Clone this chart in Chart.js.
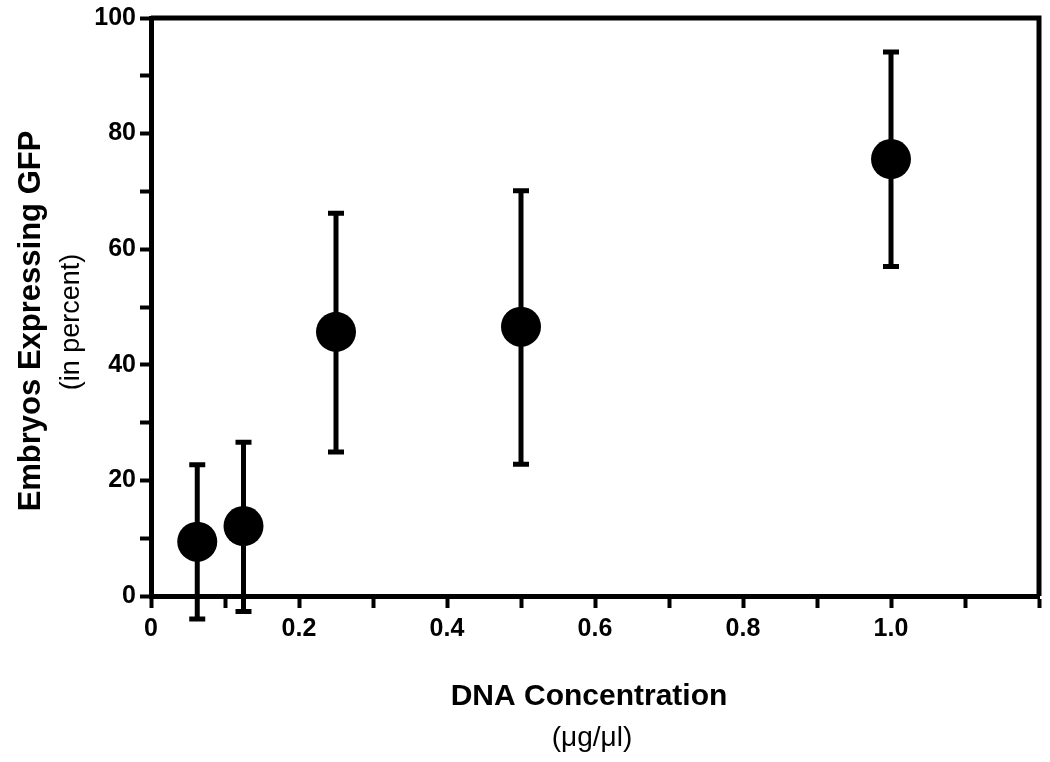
<!DOCTYPE html>
<html>
<head>
<meta charset="utf-8">
<script src="https://cdn.jsdelivr.net/npm/chart.js@4"></script>
<style>
  html, body { margin: 0; padding: 0; background: #fff; }
  #wrap { width: 1050px; height: 762px; position: relative; }
</style>
</head>
<body>
<div id="wrap"><canvas id="c" width="1050" height="762"></canvas></div>
<script>
// ---- Data ----
const concentrations = [0.0625, 0.125, 0.25, 0.5, 1.0];      // µg/µl
const percentGFP     = [9.4, 12.1, 45.7, 46.6, 75.6];         // mean %
const errorLow       = [-4.0, -2.7, 24.9, 22.8, 57.0];        // lower end of error bar
const errorHigh      = [22.7, 26.6, 66.2, 70.1, 94.1];        // upper end of error bar

const xTickPositions = [0, 0.1, 0.2, 0.3, 0.4, 0.5, 0.6, 0.7, 0.8, 0.9, 1.0, 1.1, 1.2];
const xTickValues = [0, 0.2, 0.4, 0.6, 0.8, 1.0];
const xTickLabels = ['0', '0.2', '0.4', '0.6', '0.8', '1.0'];
const yTickValues = [0, 20, 40, 60, 80, 100];
const yTickLabels = ['0', '20', '40', '60', '80', '100'];

const xTitle = 'DNA Concentration';
const xSubTitle = '(\u03BCg/\u03BCl)';
const yTitle = 'Embryos Expressing GFP';
const ySubTitle = '(in percent)';

const FONT = '"Liberation Sans", Arial, Helvetica, sans-serif';

function labelFor(values, labels, v) {
  for (let i = 0; i < values.length; i++) {
    if (Math.abs(values[i] - v) < 1e-6) return labels[i];
  }
  return '';
}

// Scatter controller that does not reserve layout space for big markers
class FramedScatterController extends Chart.ScatterController {
  getMaxOverflow() { return 0; }
}
FramedScatterController.id = 'framedScatter';
FramedScatterController.defaults = Chart.ScatterController.defaults;
FramedScatterController.overrides = Chart.ScatterController.overrides;
Chart.register(FramedScatterController);

const errorBarPlugin = {
  id: 'errorBars',
  beforeDatasetsDraw(chart) {
    const ctx = chart.ctx;
    const xs = chart.scales.x, ys = chart.scales.y;
    ctx.save();
    ctx.strokeStyle = '#000';
    ctx.lineWidth = 5;
    ctx.lineCap = 'butt';
    const capHalf = 8;
    for (let i = 0; i < concentrations.length; i++) {
      const px = xs.getPixelForValue(concentrations[i]);
      const pLo = ys.getPixelForValue(errorLow[i]);
      const pHi = ys.getPixelForValue(errorHigh[i]);
      ctx.beginPath();
      ctx.moveTo(px, pLo);
      ctx.lineTo(px, pHi);
      ctx.moveTo(px - capHalf, pLo);
      ctx.lineTo(px + capHalf, pLo);
      ctx.moveTo(px - capHalf, pHi);
      ctx.lineTo(px + capHalf, pHi);
      ctx.stroke();
    }
    ctx.restore();
  }
};

const framePlugin = {
  id: 'frameAndTitles',
  afterDraw(chart) {
    const ctx = chart.ctx;
    const a = chart.chartArea;
    const xs = chart.scales.x, ys = chart.scales.y;
    ctx.save();
    // top and right frame lines
    ctx.strokeStyle = '#000';
    ctx.lineWidth = 5;
    ctx.beginPath();
    const topY = ys.getPixelForValue(100);
    const rightX = xs.getPixelForValue(1.2);
    ctx.moveTo(a.left, topY);
    ctx.lineTo(rightX, topY);
    ctx.lineTo(rightX, ys.getPixelForValue(0));
    ctx.stroke();

    // axis titles
    ctx.fillStyle = '#000';
    ctx.textAlign = 'center';
    ctx.textBaseline = 'alphabetic';
    ctx.font = 'bold 30px ' + FONT;
    ctx.fillText(xTitle, 589, 705);
    ctx.font = '28px ' + FONT;
    ctx.fillText(xSubTitle, 592, 746);

    ctx.save();
    ctx.translate(40, 321);
    ctx.rotate(-Math.PI / 2);
    ctx.font = 'bold 31px ' + FONT;
    ctx.fillText(yTitle, 0, 0);
    ctx.restore();

    ctx.save();
    ctx.translate(79, 322);
    ctx.rotate(-Math.PI / 2);
    ctx.font = '27px ' + FONT;
    ctx.fillText(ySubTitle, 0, 0);
    ctx.restore();

    ctx.restore();
  }
};

new Chart(document.getElementById('c'), {
  type: 'framedScatter',
  data: {
    datasets: [{
      data: concentrations.map((x, i) => ({ x: x, y: percentGFP[i] })),
      backgroundColor: '#000',
      borderColor: '#000',
      pointRadius: 20,
      pointHoverRadius: 20,
      pointBorderWidth: 0,
      showLine: false,
      clip: false
    }]
  },
  options: {
    responsive: false,
    animation: false,
    events: [],
    layout: { padding: { top: 18, right: 11, left: 0, bottom: 0 } },
    plugins: {
      legend: { display: false },
      tooltip: { enabled: false },
      title: { display: false }
    },
    scales: {
      x: {
        type: 'linear',
        position: 'bottom',
        min: 0,
        max: 1.2,
        afterFit(scale) { scale.height = 166; scale.paddingRight = 0; scale.paddingLeft = 0; },
        afterBuildTicks(scale) {
          scale.ticks = xTickPositions.map(v => ({ value: v }));
        },
        ticks: {
          autoSkip: false,
          maxRotation: 0,
          padding: 6,
          color: '#000',
          font: { family: FONT, size: 25, weight: 'bold' },
          callback: (v) => labelFor(xTickValues, xTickLabels, v)
        },
        grid: {
          drawOnChartArea: false,
          drawTicks: true,
          tickLength: 12,
          tickWidth: 4,
          tickColor: '#000',
          color: '#000'
        },
        border: { display: true, color: '#000', width: 5 }
      },
      y: {
        type: 'linear',
        position: 'left',
        min: 0,
        max: 100,
        afterFit(scale) { scale.width = 151; scale.paddingTop = 0; scale.paddingBottom = 0; },
        ticks: {
          stepSize: 10,
          autoSkip: false,
          padding: 4,
          color: '#000',
          font: { family: FONT, size: 25, weight: 'bold' },
          callback: (v) => labelFor(yTickValues, yTickLabels, v)
        },
        grid: {
          drawOnChartArea: false,
          drawTicks: true,
          tickLength: 11,
          tickWidth: 4,
          tickColor: '#000',
          color: '#000'
        },
        border: { display: true, color: '#000', width: 5 }
      }
    }
  },
  plugins: [errorBarPlugin, framePlugin]
});
</script>
</body>
</html>
